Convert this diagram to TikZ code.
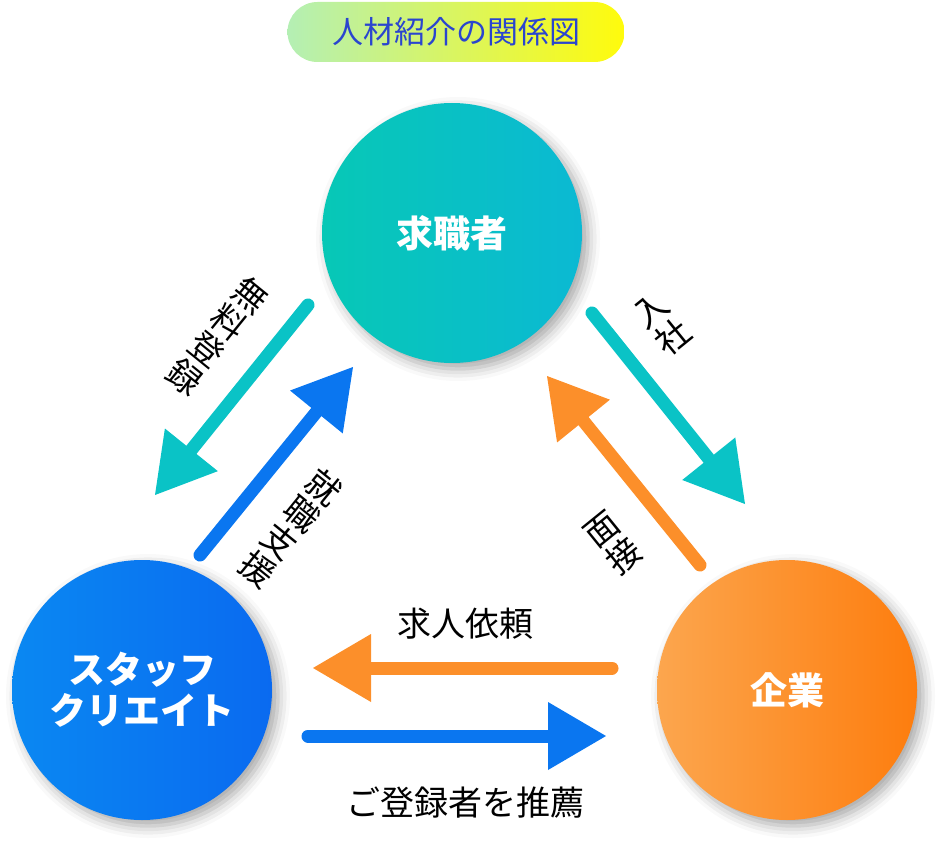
\documentclass[tikz,border=0pt]{standalone}
\usepackage{fontspec}
\setmainfont{Noto Sans CJK JP}
\usetikzlibrary{calc,shadows.blur}
\definecolor{tealL}{HTML}{07C8B6}
\definecolor{tealR}{HTML}{0BB9D3}
\definecolor{blueL}{HTML}{0A88F2}
\definecolor{blueR}{HTML}{0A6AF0}
\definecolor{orgL}{HTML}{FCA64E}
\definecolor{orgR}{HTML}{FD7D0E}
\definecolor{tealArr}{HTML}{0AC3C6}
\definecolor{blueArr}{HTML}{0A76F0}
\definecolor{orgArr}{HTML}{FC8F2A}
\definecolor{titleBlue}{HTML}{2A45CF}
\definecolor{pillL}{HTML}{B4EFB4}
\definecolor{pillM}{HTML}{FAFA18}
\definecolor{pillR}{HTML}{FFFB0C}
\tikzset{
  circ/.style={circle, minimum size=260pt, inner sep=0pt, text=white,
    font=\fontsize{37}{41}\selectfont\bfseries, align=center,
    blur shadow={shadow xshift=6pt, shadow yshift=-6pt, shadow blur radius=12pt, shadow opacity=35}},
  lbl/.style={font=\fontsize{34}{40}\selectfont, text=black, inner sep=0pt},
  vlbl/.style={font=\fontsize{34}{35}\selectfont, text=black, inner sep=0pt, align=center},
}
\newcommand\fatarrow[3]{%
  \coordinate (#2base) at ($(#3)!58pt!(#2)$);
  \coordinate (#2in) at ($(#3)!50pt!(#2)$);
  \draw[#1, line width=13pt, line cap=round] (#2) -- (#2in);
  \fill[#1] (#3) -- ($(#2base)!34pt!90:(#3)$) -- ($(#2base)!34pt!-90:(#3)$) -- cycle;
}
\begin{document}
\begin{tikzpicture}[x=1pt,y=-1pt]
\useasboundingbox (0,0) rectangle (945,848);

% title
\node[rounded corners=30pt, minimum width=337pt, minimum height=60pt, inner sep=0pt,
  left color=pillL, middle color=pillM, right color=pillR,
  text=titleBlue, font=\fontsize{31}{36}\selectfont] (title) at (456,32) {人材紹介の関係図};

% circles
\node[circ, left color=tealL, right color=tealR] (seeker) at (452,233) {求職者};
\node[circ, left color=blueL, right color=blueR] (staff) at (142,690) {スタッフ\\クリエイト};
\node[circ, left color=orgL, right color=orgR] (company) at (787,690) {企業};

% arrow end points
\coordinate (t1s) at (308,305); \coordinate (t1e) at (155,495);
\coordinate (b1s) at (200,555); \coordinate (b1e) at (353,367);
\coordinate (t2s) at (592,313); \coordinate (t2e) at (745,504);
\coordinate (o1s) at (700,565); \coordinate (o1e) at (547,376);
\coordinate (o2s) at (612,668); \coordinate (o2e) at (313,668);
\coordinate (b2s) at (308,736); \coordinate (b2e) at (606,736);

\fatarrow{tealArr}{t1s}{t1e}
\fatarrow{blueArr}{b1s}{b1e}
\fatarrow{tealArr}{t2s}{t2e}
\fatarrow{orgArr}{o1s}{o1e}
\fatarrow{orgArr}{o2s}{o2e}
\fatarrow{blueArr}{b2s}{b2e}

% labels (vertical writing, tilted)
\node[vlbl, rotate=-39] (l1) at (218,336) {無\\料\\登\\録};
\node[vlbl, rotate=-39] (l2) at (291,528) {就\\職\\支\\援};
\node[vlbl, rotate=39] (l3) at (662,324) {入\\社};
\node[vlbl, rotate=39] (l4) at (613,543) {面\\接};
\node[lbl] (l5) at (465,624) {求人依頼};
\node[lbl] (l6) at (465,803) {ご登録者を推薦};
\end{tikzpicture}
\end{document}
